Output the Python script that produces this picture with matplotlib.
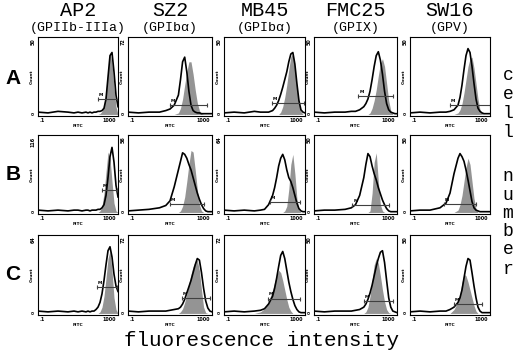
import matplotlib
matplotlib.use('Agg')
import matplotlib.pyplot as plt
import numpy as np

logFitc = [-1.0, -0.5, 0.0, 0.5, 0.8, 1.0, 1.2, 1.4, 1.5, 1.6, 1.7, 1.8,
           1.9, 2.0, 2.1, 2.2, 2.3, 2.4, 2.5, 2.6, 2.7, 2.8, 2.9, 3.0]

antibodies = ['AP2', 'SZ2', 'MB45', 'FMC25', 'SW16']
targets = ['(GPIIb-IIIa)', '(GPIb\u03b1)', '(GPIb\u03b1)', '(GPIX)', '(GPV)']
rowNames = ['A', 'B', 'C']

# count axis maxima printed on each panel
countMax = [['50', '72', '50', '50', '50'],
            ['116', '56', '64', '50', '50'],
            ['64', '72', '72', '50', '50']]

# gray filled histograms (% of panel height)
grayA = [
    [0, 0, 0, 0, 0, 0, 0, 0, 0, 0, 0, 0, 0, 0, 1, 4, 12, 30, 58, 80, 66, 35, 10, 0],
    [0, 0, 0, 0, 0, 0, 0, 2, 8, 20, 38, 55, 68, 68, 52, 32, 15, 5, 1, 0, 0, 0, 0, 0],
    [0, 0, 0, 0, 0, 0, 0, 0, 0, 0, 0, 3, 10, 22, 38, 58, 75, 78, 60, 35, 15, 4, 0, 0],
    [0, 0, 0, 0, 0, 0, 0, 0, 0, 0, 2, 8, 18, 32, 50, 66, 72, 62, 40, 18, 5, 0, 0, 0],
    [0, 0, 0, 0, 0, 0, 0, 2, 6, 14, 28, 45, 62, 72, 74, 60, 40, 20, 6, 1, 0, 0, 0, 0],
]
grayB = [
    [0, 0, 0, 0, 0, 0, 0, 0, 0, 0, 0, 0, 0, 0, 2, 8, 25, 52, 78, 70, 40, 12, 2, 0],
    [0, 0, 0, 0, 0, 0, 0, 0, 2, 8, 20, 40, 62, 80, 78, 55, 30, 10, 2, 0, 0, 0, 0, 0],
    [0, 0, 0, 0, 0, 0, 0, 0, 0, 0, 0, 0, 0, 2, 8, 30, 62, 75, 50, 18, 3, 0, 0, 0],
    [0, 0, 0, 0, 0, 0, 0, 0, 0, 0, 2, 25, 65, 77, 40, 10, 2, 0, 0, 0, 0, 0, 0, 0],
    [0, 0, 0, 0, 0, 0, 0, 3, 10, 22, 40, 58, 70, 62, 40, 18, 5, 0, 0, 0, 0, 0, 0, 0],
]
grayC = [
    [0, 0, 0, 0, 0, 0, 0, 0, 0, 0, 0, 0, 0, 0, 2, 8, 22, 45, 70, 80, 55, 20, 5, 0],
    [0, 0, 0, 0, 0, 0, 0, 0, 2, 6, 14, 25, 38, 50, 60, 66, 68, 55, 30, 8, 1, 0, 0, 0],
    [0, 0, 0, 0, 2, 6, 15, 30, 40, 48, 55, 52, 42, 30, 18, 8, 3, 0, 0, 0, 0, 0, 0, 0],
    [0, 0, 0, 0, 0, 0, 0, 0, 2, 8, 22, 42, 62, 70, 64, 48, 30, 15, 5, 1, 0, 0, 0, 0],
    [0, 0, 0, 0, 0, 0, 5, 15, 25, 40, 50, 48, 40, 30, 20, 10, 3, 0, 0, 0, 0, 0, 0, 0],
]

# black outline histograms (% of panel height)
blackA = [
    [3, 2, 4, 3, 2, 3, 2, 3, 2, 3, 2, 3, 3, 4, 4, 5, 8, 20, 48, 76, 80, 55, 25, 10],
    [3, 2, 3, 3, 5, 7, 12, 25, 45, 68, 74, 55, 30, 12, 5, 3, 2, 2, 1, 1, 1, 1, 1, 1],
    [2, 3, 2, 4, 3, 3, 3, 5, 8, 12, 18, 26, 35, 45, 55, 68, 78, 80, 65, 40, 18, 6, 3, 2],
    [3, 2, 3, 3, 4, 4, 6, 10, 14, 20, 30, 45, 62, 76, 81, 70, 52, 30, 14, 6, 3, 2, 1, 1],
    [2, 3, 2, 3, 3, 4, 6, 12, 22, 38, 58, 76, 85, 80, 62, 40, 20, 8, 4, 2, 1, 1, 1, 1],
]
blackB = [
    [3, 2, 3, 2, 3, 3, 2, 3, 3, 2, 3, 3, 3, 4, 4, 6, 10, 22, 45, 72, 84, 65, 35, 20],
    [2, 3, 4, 6, 9, 15, 33, 55, 66, 77, 75, 70, 62, 55, 45, 35, 25, 17, 10, 5, 2, 1, 1, 1],
    [3, 2, 3, 2, 3, 4, 10, 22, 32, 45, 60, 70, 75, 68, 55, 45, 40, 32, 22, 12, 5, 2, 1, 1],
    [2, 3, 3, 4, 6, 10, 22, 45, 62, 76, 72, 60, 50, 42, 32, 24, 16, 10, 5, 2, 1, 1, 1, 1],
    [2, 3, 3, 6, 12, 25, 50, 70, 76, 72, 66, 55, 42, 28, 14, 6, 3, 2, 1, 1, 1, 1, 1, 1],
]
blackC = [
    [3, 2, 3, 2, 3, 2, 3, 2, 3, 2, 3, 3, 5, 8, 14, 25, 42, 62, 80, 85, 72, 50, 35, 28],
    [3, 2, 3, 3, 3, 4, 5, 6, 8, 12, 18, 26, 34, 42, 52, 62, 70, 68, 52, 32, 16, 7, 3, 2],
    [2, 3, 2, 3, 4, 6, 12, 22, 32, 45, 60, 74, 79, 70, 55, 40, 28, 18, 10, 5, 2, 1, 1, 1],
    [3, 2, 3, 3, 3, 4, 5, 8, 12, 18, 26, 36, 48, 60, 70, 78, 80, 65, 42, 20, 8, 3, 2, 1],
    [2, 3, 2, 3, 3, 5, 8, 14, 20, 30, 45, 60, 70, 68, 52, 35, 20, 8, 3, 1, 1, 1, 1, 1],
]

# marker gate M: (start log10, end log10, height %)
gatesA = [(2.0, 3.0, 20), (1.0, 2.76, 12), (1.35, 2.95, 15), (1.14, 2.8, 24), (1.0, 3.0, 12)]
gatesB = [(2.2, 2.95, 29), (1.0, 2.6, 11), (1.25, 2.75, 14), (0.85, 2.6, 10), (0.7, 2.3, 11)]
gatesC = [(1.95, 2.95, 34), (1.55, 2.9, 20), (1.15, 2.75, 19), (1.4, 2.8, 16), (1.2, 2.6, 12)]

grays = [grayA, grayB, grayC]
blacks = [blackA, blackB, blackC]
gates = [gatesA, gatesB, gatesC]

W, H = 520, 350
colLeft = [38, 128, 224, 314, 410]
colWidth = [80, 84, 81, 83, 80]
rowTop = [37, 135, 235]
rowBottom = [116, 214, 315]

mono = ['Liberation Mono', 'DejaVu Sans Mono']
fig = plt.figure(figsize=(5.2, 3.5), dpi=100)

x = 10 ** np.array(logFitc)
for r in range(3):
    for c in range(5):
        left = colLeft[c] / W
        bottom = 1 - rowBottom[r] / H
        ax = fig.add_axes([left, bottom, colWidth[c] / W, (rowBottom[r] - rowTop[r]) / H])
        ax.set_xscale('log')
        ax.set_xlim(0.1, 1000)
        ax.set_ylim(-2, 100)
        ax.fill_between(x, grays[r][c], color='0.58', lw=0)
        ax.plot(x, blacks[r][c], color='black', lw=1.2)
        s, e, h = gates[r][c]
        ax.plot([10 ** s, 10 ** e], [h, h], color='0.25', lw=0.8)
        ax.plot([10 ** s, 10 ** e], [h, h], ls='none', marker='|', ms=3.5, color='0.25', mew=0.8)
        ax.text(10 ** (s + 0.05), h + 4, 'M', fontsize=3.2, fontweight='bold')
        ax.set_xticks([])
        ax.set_yticks([])
        ax.minorticks_off()
        for sp in ax.spines.values():
            sp.set_linewidth(0.8)
        ax.text(0.02, -0.03, '.1', transform=ax.transAxes, fontsize=3.5,
                fontweight='bold', ha='left', va='top')
        ax.text(0.98, -0.03, '1000', transform=ax.transAxes, fontsize=3.5,
                fontweight='bold', ha='right', va='top')
        ax.text(0.5, -0.1, 'FITC', transform=ax.transAxes, fontsize=3.2,
                fontweight='bold', ha='center', va='top')
        ax.text(-0.05, 0.5, 'Count', transform=ax.transAxes, fontsize=3.2,
                fontweight='bold', rotation=90, ha='right', va='center')
        ax.text(-0.03, 0.98, countMax[r][c], transform=ax.transAxes, fontsize=3.5,
                fontweight='bold', rotation=90, ha='right', va='top')
        ax.text(-0.03, 0.03, '0', transform=ax.transAxes, fontsize=3.2,
                fontweight='bold', rotation=90, ha='right', va='center')

for c in range(5):
    cx = (colLeft[c] + colWidth[c] / 2) / W
    fig.text(cx, 1 - 11 / H, antibodies[c], family=mono, fontsize=14.5,
             ha='center', va='center')
    fig.text(cx, 1 - 28 / H, targets[c], family=mono, fontsize=9.5,
             ha='center', va='center')

rowY = [79, 175, 275]
for r in range(3):
    fig.text(13 / W, 1 - rowY[r] / H, rowNames[r], family=['Liberation Sans', 'DejaVu Sans'],
             fontweight='bold', fontsize=15, ha='center', va='center')

sideLetters = ['c', 'e', 'l', 'l', 'n', 'u', 'm', 'b', 'e', 'r']
sideY = [75, 95, 114, 132, 177, 195, 213, 232, 250, 269]
for ch, yy in zip(sideLetters, sideY):
    fig.text(508 / W, 1 - yy / H, ch, family=mono, fontsize=13, ha='center', va='center')

fig.text(262 / W, 1 - 340 / H, 'fluorescence intensity', family=mono, fontsize=15,
         ha='center', va='center')

fig.savefig('out.png', dpi=100, facecolor='white')
